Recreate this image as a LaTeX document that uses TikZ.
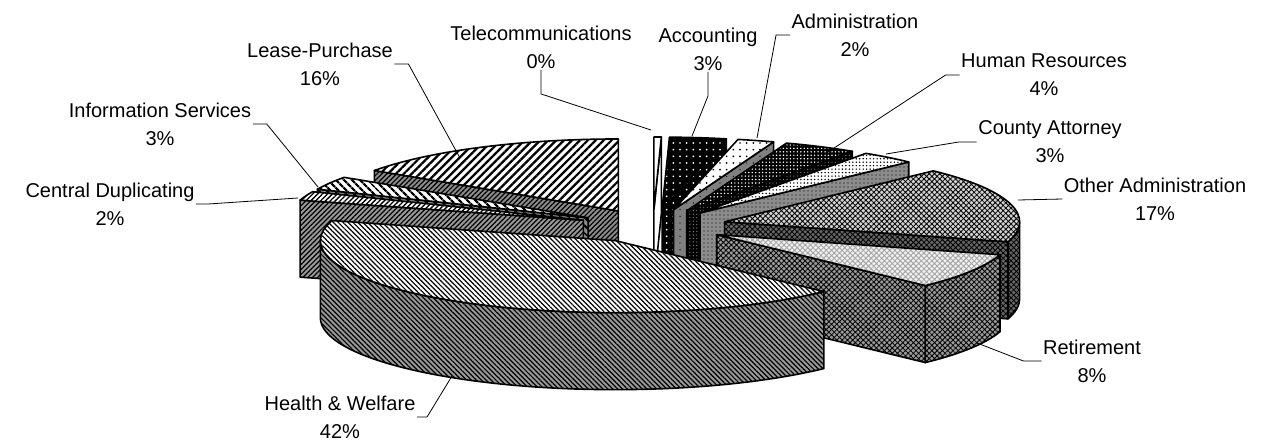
\documentclass[tikz,border=0pt]{standalone}
\usepackage{fontspec}
\setmainfont{Liberation Sans}
\usetikzlibrary{patterns.meta,calc}

\begin{document}
\begin{tikzpicture}[x=0.75pt,y=-0.75pt,
    lbl/.style={align=center,inner sep=1pt,font=\fontsize{15}{21}\selectfont},
    leader/.style={line width=0.6pt},
    faceline/.style={draw=black,line width=1.2pt,line join=round},
    % slice tops and sides
    top-tele/.style={fill=white,postaction={faceline}},
    side-tele/.style={fill=white,postaction={faceline}},
    top-acct/.style={fill=black,postaction={pattern={Dots[radius=0.7pt,distance=5pt]},pattern color=white},postaction={faceline}},
    side-acct/.style={fill=black,postaction={pattern={Dots[radius=0.7pt,distance=5pt]},pattern color=white},postaction={faceline}},
    top-admin/.style={fill=white,postaction={pattern={Dots[radius=0.7pt,distance=5pt]},pattern color=black},postaction={faceline}},
    side-admin/.style={fill=black!50,postaction={pattern={Dots[radius=0.5pt,distance=5pt]},pattern color=black},postaction={faceline}},
    top-hr/.style={fill=black,postaction={pattern={Dots[radius=0.6pt,distance=2.6pt]},pattern color=white},postaction={faceline}},
    side-hr/.style={fill=black,postaction={pattern={Dots[radius=0.5pt,distance=2.6pt]},pattern color=gray},postaction={faceline}},
    top-county/.style={fill=white,postaction={pattern={Dots[radius=0.6pt,distance=2.6pt]},pattern color=black},postaction={faceline}},
    side-county/.style={fill=black!45,postaction={pattern={Dots[radius=0.5pt,distance=3pt]},pattern color=black},postaction={faceline}},
    top-other/.style={fill=gray!35,postaction={pattern={Hatch[angle=45,distance=2.8pt,line width=0.6pt]},pattern color=black},postaction={faceline}},
    side-other/.style={fill=black!60,postaction={pattern={Hatch[angle=45,distance=2.8pt,line width=0.6pt]},pattern color=black},postaction={faceline}},
    top-retire/.style={fill=gray!10,postaction={pattern={Hatch[angle=45,distance=2.8pt,line width=0.7pt]},pattern color=gray!70},postaction={faceline}},
    side-retire/.style={fill=black!40,postaction={pattern={Hatch[angle=45,distance=2.8pt,line width=0.6pt]},pattern color=black},postaction={faceline}},
    top-health/.style={fill=white,postaction={pattern={Lines[angle=-45,distance=2.6pt,line width=0.9pt]},pattern color=black},postaction={faceline}},
    side-health/.style={fill=black!40,postaction={pattern={Lines[angle=-45,distance=2.6pt,line width=0.9pt]},pattern color=black},postaction={faceline}},
    top-cdup/.style={fill=white,postaction={pattern={Lines[angle=45,distance=2.6pt,line width=1pt]},pattern color=black},postaction={faceline}},
    side-cdup/.style={fill=black!40,postaction={pattern={Lines[angle=45,distance=2.6pt,line width=0.9pt]},pattern color=black},postaction={faceline}},
    top-info/.style={fill=white,postaction={pattern={Lines[angle=-45,distance=4pt,line width=1.8pt]},pattern color=black},postaction={faceline}},
    side-info/.style={fill=black!45,postaction={pattern={Lines[angle=-45,distance=4pt,line width=1.8pt]},pattern color=black},postaction={faceline}},
    top-lease/.style={fill=white,postaction={pattern={Lines[angle=45,distance=4.2pt,line width=1.7pt]},pattern color=black},postaction={faceline}},
    side-lease/.style={fill=black!45,postaction={pattern={Lines[angle=45,distance=2.6pt,line width=0.9pt]},pattern color=black},postaction={faceline}}]

    \useasboundingbox (0,0) rectangle (1266,443);

    % Pie geometry (pixels, y down)
    \def\cx{653} \def\cy{226}
    \def\rx{295} \def\ry{72} \def\dz{77}
    \def\ex{74} \def\ey{17}

    % Slices, back to front
    \foreach \a/\b/\s in {0/1.44/tele, 1.44/12.6/acct, 12.6/19.8/admin, 19.8/34.2/hr,
        34.2/45/county, 45/106.2/other, 106.2/135/retire, 304.2/360/lease,
        293.4/304.2/info, 286.2/293.4/cdup, 135/286.2/health}
    {
        \pgfmathsetmacro\m{(\a+\b)/2}
        \coordinate (c) at ({\cx+\ex*sin(\m)},{\cy-\ey*cos(\m)});
        % cut faces
        \pgfmathtruncatemacro\sa{sin(\a)<-0.02}
        \pgfmathtruncatemacro\sb{sin(\b)>0.02}
        \ifnum\sa=1
            \path[side-\s] (c) -- ++({\a-90}:{\rx} and {\ry}) -- ++(0,\dz) -- ++({\a+90}:{\rx} and {\ry}) -- cycle;
        \fi
        \ifnum\sb=1
            \path[side-\s] (c) -- ++({\b-90}:{\rx} and {\ry}) -- ++(0,\dz) -- ++({\b+90}:{\rx} and {\ry}) -- cycle;
        \fi
        % outer wall
        \pgfmathsetmacro\ps{max(\a-90,0)}
        \pgfmathsetmacro\pe{min(\b-90,180)}
        \pgfmathtruncatemacro\so{\pe>\ps}
        \ifnum\so=1
            \path[side-\s] (c) ++(\ps:{\rx} and {\ry}) arc[start angle=\ps,end angle=\pe,x radius=\rx,y radius=\ry]
                -- ++(0,\dz) arc[start angle=\pe,end angle=\ps,x radius=\rx,y radius=\ry] -- cycle;
        \fi
        % top
        \path[top-\s] (c) -- ++({\a-90}:{\rx} and {\ry})
            arc[start angle={\a-90},end angle={\b-90},x radius=\rx,y radius=\ry] -- cycle;
    }

    % Labels
    \node[lbl] (tele) at (541,47) {Telecommunications\\0\%};
    \node[lbl] (acct) at (708,49) {Accounting\\3\%};
    \node[lbl] (admin) at (855,35) {Administration\\2\%};
    \node[lbl] (hr) at (1044,75) {Human Resources\\4\%};
    \node[lbl] (county) at (1050,142) {County Attorney\\3\%};
    \node[lbl] (other) at (1155,199) {Other Administration\\17\%};
    \node[lbl] (retire) at (1092,361) {Retirement\\8\%};
    \node[lbl] (health) at (340,417) {Health \& Welfare\\42\%};
    \node[lbl] (cdup) at (110,204) {Central Duplicating\\2\%};
    \node[lbl] (info) at (160,124) {Information Services\\3\%};
    \node[lbl] (lease) at (320,64) {Lease-Purchase\\16\%};

    % Leader end points on the slices
    \coordinate (tele-pt) at (651,130);
    \coordinate (acct-pt) at (692,136);
    \coordinate (admin-pt) at (757,138);
    \coordinate (hr-pt) at (828,152);
    \coordinate (county-pt) at (886,154);
    \coordinate (other-pt) at (1018,200);
    \coordinate (retire-pt) at (977,343);
    \coordinate (health-pt) at (452,376);
    \coordinate (cdup-pt) at (298,198);
    \coordinate (info-pt) at (318,187);
    \coordinate (lease-pt) at (460,158);

    % Leaders
    \draw[leader] (tele.south) -- ++(0,24) -- (tele-pt);
    \draw[leader] (acct.south) -- ++(0,24) -- (acct-pt);
    \draw[leader] (admin.west) -- ++(-14,0) -- (admin-pt);
    \draw[leader] (hr.west) -- ++(-14,0) -- (hr-pt);
    \draw[leader] (county.west) -- ++(-18,0) -- (county-pt);
    \draw[leader] (other.west) -- (other-pt);
    \draw[leader] (retire.west) -- ++(-18,0) -- (retire-pt);
    \draw[leader] (health.east) -- ++(10,0) -- (health-pt);
    \draw[leader] (cdup.east) -- ++(12,0) -- (cdup-pt);
    \draw[leader] (info.east) -- ++(14,0) -- (info-pt);
    \draw[leader] (lease.east) -- ++(14,0) -- (lease-pt);

\end{tikzpicture}
\end{document}
